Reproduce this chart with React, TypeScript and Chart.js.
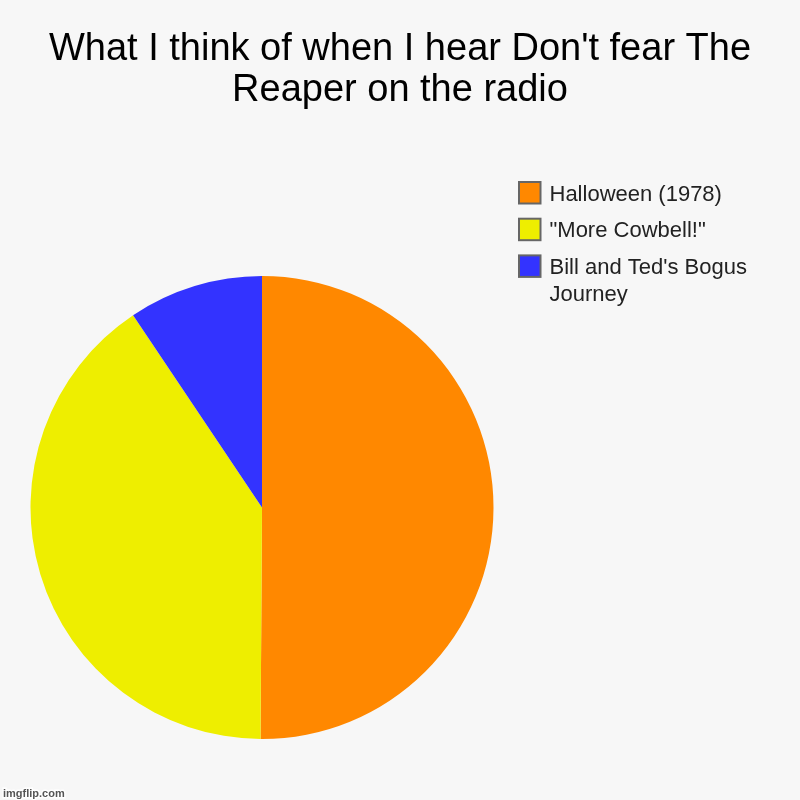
import React, { useEffect, useRef } from "react";
import { Chart, registerables } from "chart.js";

Chart.register(...registerables);

const titleLines = ["What I think of when I hear Don't fear The", "Reaper on the radio"];
const categories = ["Halloween (1978)", "\"More Cowbell!\"", "Bill and Ted's Bogus Journey"];
const values = [50.1, 40.5, 9.4];
const colors = ["#ff8800", "#eeee00", "#3333ff"];

const FONT = "'Liberation Sans', Arial, sans-serif";

function wrapText(ctx: CanvasRenderingContext2D, text: string, maxWidth: number): string[] {
  const words = text.split(" ");
  const lines: string[] = [];
  let cur = "";
  for (const w of words) {
    const test = cur ? cur + " " + w : w;
    if (ctx.measureText(test).width > maxWidth && cur) {
      lines.push(cur);
      cur = w;
    } else {
      cur = test;
    }
  }
  if (cur) lines.push(cur);
  return lines;
}

const decorPlugin = {
  id: "decor",
  beforeDraw(chart: any) {
    const ctx = chart.ctx as CanvasRenderingContext2D;
    ctx.save();
    ctx.fillStyle = "#f7f7f7";
    ctx.fillRect(0, 0, chart.width, chart.height);
    ctx.restore();
  },
  afterDraw(chart: any) {
    const ctx = chart.ctx as CanvasRenderingContext2D;
    ctx.save();
    // title
    ctx.fillStyle = "#000000";
    ctx.font = `38px ${FONT}`;
    ctx.textAlign = "center";
    ctx.textBaseline = "alphabetic";
    titleLines.forEach((line, i) => {
      ctx.fillText(line, chart.width / 2, 60 + i * 41);
    });
    // legend
    const labels = chart.data.labels as string[];
    const bg = chart.data.datasets[0].backgroundColor as string[];
    ctx.font = `22px ${FONT}`;
    ctx.textAlign = "left";
    let y = 181;
    labels.forEach((lab, i) => {
      ctx.fillStyle = bg[i];
      ctx.fillRect(519, y + 1, 21.5, 21.5);
      ctx.strokeStyle = "#666666";
      ctx.lineWidth = 2;
      ctx.strokeRect(519, y + 1, 21.5, 21.5);
      ctx.fillStyle = "#222222";
      const lines = wrapText(ctx, lab, 230);
      lines.forEach((l, j) => {
        ctx.fillText(l, 549.5, y + 19.5 + j * 26.7);
      });
      y += 36.7;
    });
    // watermark
    ctx.font = `bold 11px ${FONT}`;
    ctx.textAlign = "left";
    ctx.lineWidth = 3;
    ctx.strokeStyle = "#ffffff";
    ctx.strokeText("imgflip.com", 3, 797);
    ctx.fillStyle = "#555555";
    ctx.fillText("imgflip.com", 3, 797);
    ctx.restore();
  },
};

export default function App() {
  const ref = useRef<HTMLCanvasElement | null>(null);
  useEffect(() => {
    if (!ref.current) return;
    const chart = new Chart(ref.current, {
      type: "pie",
      data: {
        labels: categories,
        datasets: [
          {
            data: values,
            backgroundColor: colors,
            borderWidth: 0,
          },
        ],
      },
      options: {
        animation: false,
        responsive: false,
        devicePixelRatio: 1,
        layout: { padding: { left: 30.5, top: 276, right: 306.5, bottom: 61 } },
        plugins: {
          legend: { display: false },
          title: { display: false },
          tooltip: { enabled: false },
        },
      },
      plugins: [decorPlugin],
    });
    return () => chart.destroy();
  }, []);
  return (
    <div style={{ position: "absolute", left: 0, top: 0, width: 800, height: 800, background: "#f7f7f7" }}>
      <canvas ref={ref} width={800} height={800} style={{ width: 800, height: 800, display: "block" }} />
    </div>
  );
}
